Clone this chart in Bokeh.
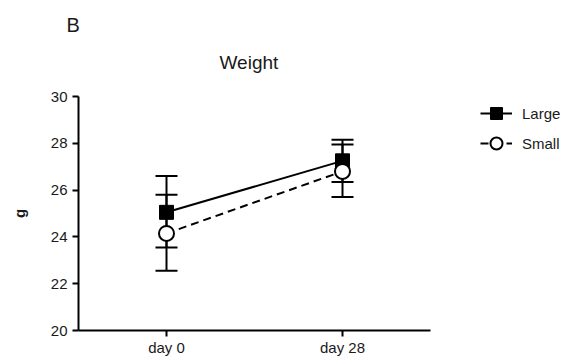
from bokeh.plotting import figure
from bokeh.models import (ColumnDataSource, Whisker, TeeHead, Legend, LegendItem,
                          FactorRange, Range1d, FixedTicker, Title)
from bokeh.embed import file_html
from bokeh.resources import INLINE

categories = ["day 0", "day 28"]
large_mean = [25.05, 27.25]
large_upper = [26.6, 28.15]
large_lower = [23.55, 26.35]
small_mean = [24.15, 26.8]
small_upper = [25.8, 27.95]
small_lower = [22.55, 25.7]
y_ticks = [20, 22, 24, 26, 28, 30]

FONT = "Liberation Sans"
TXT = "#1a1a1a"

src_l = ColumnDataSource(dict(x=categories, y=large_mean, up=large_upper, lo=large_lower))
src_s = ColumnDataSource(dict(x=categories, y=small_mean, up=small_upper, lo=small_lower))

p = figure(frame_width=352, frame_height=234,
           x_range=FactorRange(*categories, range_padding=0),
           y_range=Range1d(20, 30), output_backend="svg", toolbar_location=None,
           title_location=None,
           min_border_left=78, min_border_right=131, min_border_top=96, min_border_bottom=20)

p.add_layout(Title(text="Weight", text_font=FONT, text_font_size="19px", text_font_style="normal",
                   text_color=TXT, align="left", offset=141, standoff=48), "above")
p.add_layout(Title(text="B", text_font=FONT, text_font_size="20px", text_font_style="normal",
                   text_color=TXT, align="left", offset=-12, standoff=-20), "above")

p.outline_line_color = None
p.xgrid.visible = False
p.ygrid.visible = False
p.background_fill_color = "white"
p.border_fill_color = "white"

for ax in (p.xaxis[0], p.yaxis[0]):
    ax.axis_line_width = 2
    ax.axis_line_color = "black"
    ax.major_tick_line_width = 2
    ax.major_tick_line_color = "black"
    ax.major_tick_out = 6
    ax.major_tick_in = 0
    ax.minor_tick_line_color = None
    ax.major_label_text_font = FONT
    ax.major_label_text_font_size = "15px"
    ax.major_label_text_color = TXT

p.xaxis.major_label_standoff = 2
p.yaxis.major_label_standoff = 5
p.yaxis.ticker = FixedTicker(ticks=y_ticks)
p.yaxis.axis_label = "g"
p.yaxis.axis_label_text_font = FONT
p.yaxis.axis_label_text_font_size = "15px"
p.yaxis.axis_label_text_font_style = "bold"
p.yaxis.axis_label_text_color = TXT
p.yaxis.axis_label_standoff = 20

# lines
l_line = p.line("x", "y", source=src_l, line_color="black", line_width=2)
s_line = p.line("x", "y", source=src_s, line_color="black", line_width=2, line_dash="8 5")

# error bars
for src in (src_l, src_s):
    w = Whisker(base="x", upper="up", lower="lo", source=src, line_color="black", line_width=2,
                upper_head=TeeHead(size=22, line_width=2, line_color="black"),
                lower_head=TeeHead(size=22, line_width=2, line_color="black"))
    p.add_layout(w)

l_mark = p.scatter("x", "y", source=src_l, marker="square", size=14,
                   fill_color="black", line_color="black", line_width=1)
s_mark = p.scatter("x", "y", source=src_s, marker="circle", size=15,
                   fill_color="white", line_color="black", line_width=2)

legend = Legend(items=[LegendItem(label="Large", renderers=[l_line, l_mark]),
                       LegendItem(label="Small", renderers=[s_line, s_mark])],
                location=(50, 172), orientation="vertical",
                glyph_width=32, glyph_height=30, label_height=20, spacing=0,
                label_standoff=10, padding=0, margin=0,
                border_line_color=None, background_fill_alpha=0,
                label_text_font=FONT, label_text_font_size="15px", label_text_color=TXT)
p.add_layout(legend, "right")

open("out.html", "w").write(file_html(p, INLINE))
